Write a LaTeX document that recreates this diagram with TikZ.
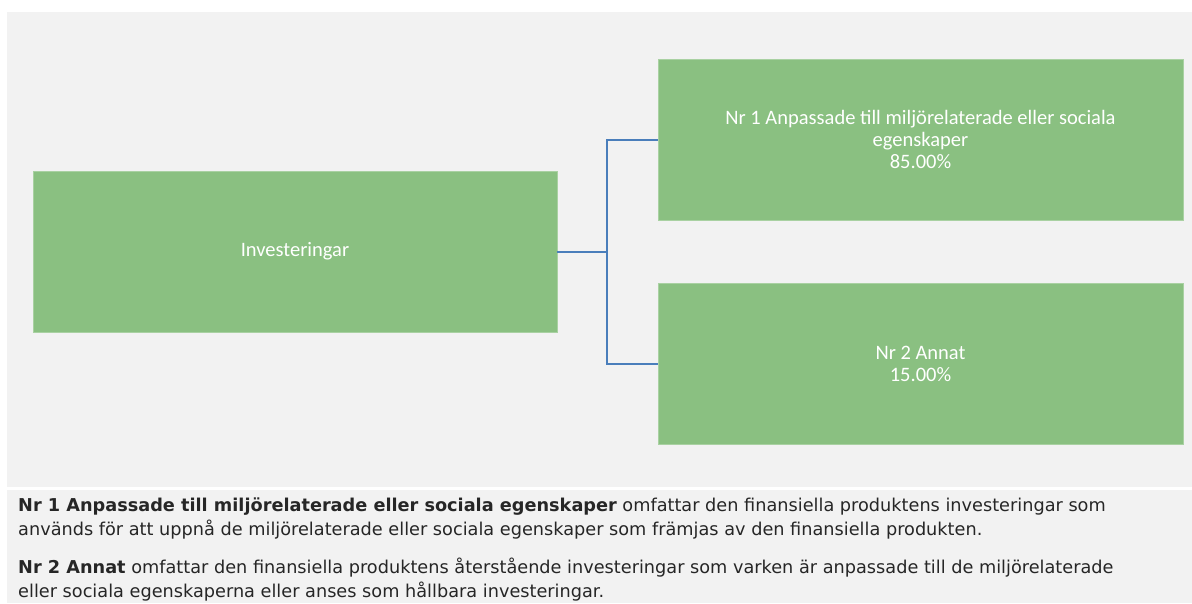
\documentclass[tikz,border=0pt]{standalone}
\usepackage{fontspec}
\setmainfont{DejaVu Sans}
\newfontfamily\boxfont{Carlito}
\usepackage{xcolor}
\definecolor{panelgray}{HTML}{F2F2F2}
\definecolor{boxgreen}{HTML}{8AC081}
\definecolor{boxedge}{HTML}{A9D1A2}
\definecolor{linkblue}{HTML}{4A7EBB}

\begin{document}
\begin{tikzpicture}[x=1pt, y=-1pt,
  box/.style = {fill=boxgreen, draw=boxedge, line width=0.8pt, inner sep=0pt,
    text=white, align=center, font=\boxfont\fontsize{20.5}{22}\selectfont},
  link/.style = {draw=linkblue, line width=2pt},
  note/.style = {anchor=north west, inner sep=0pt, align=left, text=black!85,
    font=\fontsize{17.7}{23.3}\selectfont}]
  \useasboundingbox (0,0) rectangle (1192,603);
  \fill[panelgray] (7,12) rectangle (1192,487);
  \fill[panelgray] (7,490) rectangle (1192,603);

  \node[box, minimum width=524pt, minimum height=161pt] (inv) at (295,251.5) {Investeringar};
  \node[box, minimum width=525pt, minimum height=161pt] (nr1) at (920.5,139.5)
    {Nr 1 Anpassade till miljörelaterade eller sociala\\egenskaper\\85.00\%};
  \node[box, minimum width=525pt, minimum height=161pt] (nr2) at (920.5,364)
    {Nr 2 Annat\\15.00\%};

  \coordinate (split) at (607,251.5);
  \draw[link] (inv.east) -- (split);
  \draw[link] (split) |- (nr1.west);
  \draw[link] (split) |- (nr2.west);

  \node[note] (def1) at (18,498)
    {\textbf{Nr 1 Anpassade till miljörelaterade eller sociala egenskaper} omfattar den finansiella produktens investeringar som\\
     används för att uppnå de miljörelaterade eller sociala egenskaper som främjas av den finansiella produkten.};
  \node[note] (def2) at (18,558)
    {\textbf{Nr 2 Annat} omfattar den finansiella produktens återstående investeringar som varken är anpassade till de miljörelaterade\\
     eller sociala egenskaperna eller anses som hållbara investeringar.};
\end{tikzpicture}
\end{document}
